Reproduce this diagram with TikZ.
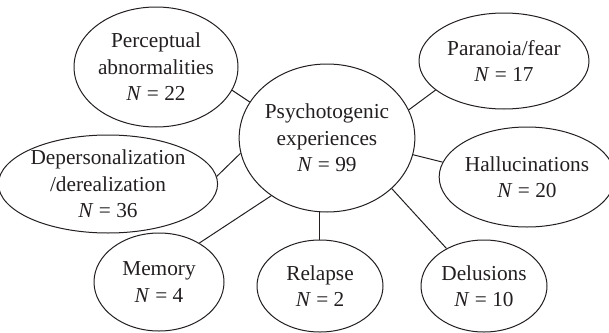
\documentclass[tikz,border=0pt]{standalone}
\usepackage{fontspec}
\setmainfont{Liberation Serif}
\usetikzlibrary{shapes.geometric}
\definecolor{ink}{HTML}{231F20}
\begin{document}
\begin{tikzpicture}[x=1pt,y=-1pt,
  bubble/.style={draw=ink, text=ink, ellipse, line width=1pt, inner sep=0pt, align=center,
    font=\fontsize{21.3}{26.5}\selectfont},
  link/.style={draw=ink, line width=1pt}]
\useasboundingbox (0,0) rectangle (609,332);
\node[bubble, minimum width=168pt, minimum height=148pt] (C) at (327,138)
  {Psychotogenic\\experiences\\\textit{N} = 99};
\node[bubble, minimum width=164pt, minimum height=120pt] (P) at (156,67)
  {Perceptual\\abnormalities\\\textit{N} = 22};
\node[bubble, minimum width=170pt, minimum height=96pt] (F) at (504,61)
  {Paranoia/fear\\\textit{N} = 17};
\node[bubble, minimum width=161pt, minimum height=100pt] (H) at (527,177)
  {Hallucinations\\\textit{N} = 20};
\node[bubble, minimum width=200pt, minimum height=98pt] (D) at (108,184)
  {Depersonalization\\/derealization\\\textit{N} = 36};
\node[bubble, minimum width=130pt, minimum height=98pt] (M) at (159,282)
  {Memory\\\textit{N} = 4};
\node[bubble, minimum width=126pt, minimum height=92pt] (R) at (320,286)
  {Relapse\\\textit{N} = 2};
\node[bubble, minimum width=126pt, minimum height=92pt] (L) at (484,286)
  {Delusions\\\textit{N} = 10};
\draw[link] (C.155.3) -- (P.-17.8);
\draw[link] (C.19.7) -- (F.-157.9);
\draw[link] (C.-11.6) -- (H.170.1);
\draw[link] (C.190.8) -- (D.4.6);
\draw[link] (C.226.5) -- (M.44.3);
\draw[link] (C.264.4) -- (C.264.4 |- R.north);
\draw[link] (C.-38.4) -- (L.135);
\end{tikzpicture}
\end{document}
